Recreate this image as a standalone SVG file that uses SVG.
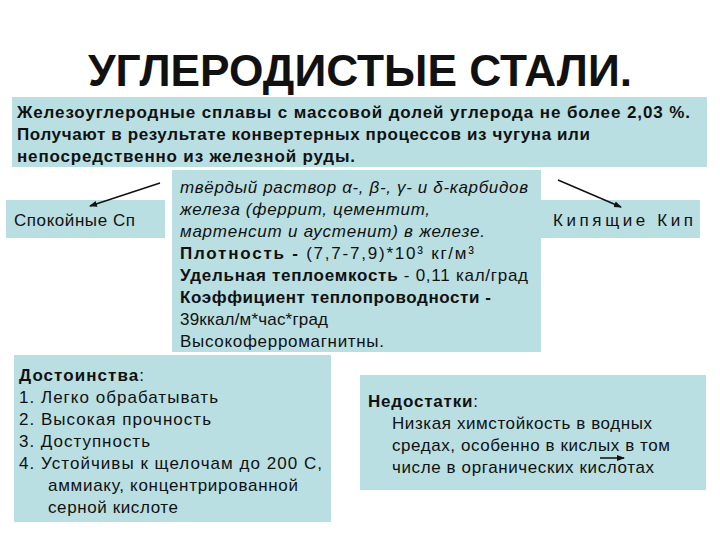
<svg xmlns="http://www.w3.org/2000/svg" width="720" height="540" viewBox="0 0 720 540">
<style>
.b{fill:#b9dfe2}
text{font-family:"Liberation Sans",Arial,sans-serif;fill:#111}
.t{font-size:17px}
.bd{font-weight:bold}
.it{font-style:italic}
</style>
<defs><marker id="ah" markerWidth="8" markerHeight="8" refX="7" refY="4" orient="auto" markerUnits="userSpaceOnUse"><path d="M0,1 L8,4 L0,7 Z" fill="#111"/></marker></defs>
<rect width="720" height="540" fill="#fff"/>
<text x="88" y="86" font-size="44" class="bd" textLength="544" lengthAdjust="spacingAndGlyphs">УГЛЕРОДИСТЫЕ СТАЛИ.</text>
<g id="top"><rect class="b" x="12" y="97" width="695" height="70"/>
<text class="t bd" x="17" y="118" textLength="673">Железоуглеродные сплавы с массовой долей углерода не более  2,03 %.</text>
<text class="t bd" x="17" y="140" textLength="573">Получают в результате конвертерных процессов из чугуна или</text>
<text class="t bd" x="17" y="162" textLength="338">непосредственно из железной руды.</text></g>
<g id="spok"><rect class="b" x="6" y="200" width="159" height="38"/><text class="t" x="14" y="226" textLength="121">Спокойные Сп</text></g>
<g id="kip"><rect class="b" x="541" y="200" width="159" height="38"/><text class="t" x="553" y="226" textLength="140">Кипящие Кип</text></g>
<g id="mid"><rect class="b" x="172" y="170" width="369" height="182"/>
<text class="t it" x="180" y="193" textLength="348">твёрдый раствор α-, β-,  γ- и δ-карбидов</text>
<text class="t it" x="180" y="215" textLength="250">железа (феррит, цементит,</text>
<text class="t it" x="180" y="237" textLength="305">мартенсит и аустенит) в железе.</text>
<text class="t" x="180" y="259" textLength="294"><tspan class="bd">Плотность - </tspan> (7,7-7,9)*10³ кг/м³</text>
<text class="t" x="180" y="281" textLength="348"><tspan class="bd">Удельная теплоемкость </tspan> - 0,11 кал/град</text>
<text class="t bd" x="180" y="303" textLength="311">Коэффициент теплопроводности -</text>
<text class="t" x="180" y="325" textLength="148">39ккал/м*час*град</text>
<text class="t" x="180" y="347" textLength="204">Высокоферромагнитны.</text></g>
<g id="dost"><rect class="b" x="14" y="355" width="317" height="167"/>
<text class="t" x="19" y="381" textLength="125"><tspan class="bd">Достоинства</tspan>:</text>
<text class="t" x="19" y="403" textLength="199">1.  Легко обрабатывать</text>
<text class="t" x="19" y="425" textLength="192">2.  Высокая прочность</text>
<text class="t" x="19" y="447" textLength="131">3.  Доступность</text>
<text class="t" x="19" y="469" textLength="303">4.  Устойчивы к щелочам до 200 С,</text>
<text class="t" x="48" y="491" textLength="250">аммиаку, концентрированной</text>
<text class="t" x="48" y="513" textLength="130">серной кислоте</text></g>
<g id="ned"><rect class="b" x="360" y="375" width="346" height="115"/>
<text class="t" x="368" y="407" textLength="110"><tspan class="bd">Недостатки</tspan>:</text>
<text class="t" x="392" y="429" textLength="260">Низкая химстойкость в водных</text>
<text class="t" x="392" y="451" textLength="278">средах, особенно в кислых в том</text>
<text class="t" x="392" y="473" textLength="262">числе в органических кислотах</text></g>
<g id="connectors" stroke="#111" stroke-width="1.5">
<line x1="160" y1="183" x2="90" y2="206" marker-end="url(#ah)"/>
<line x1="558" y1="180" x2="621" y2="207" marker-end="url(#ah)"/>
<line x1="600" y1="458" x2="624" y2="458" marker-end="url(#ah)"/>
</g>
</svg>
